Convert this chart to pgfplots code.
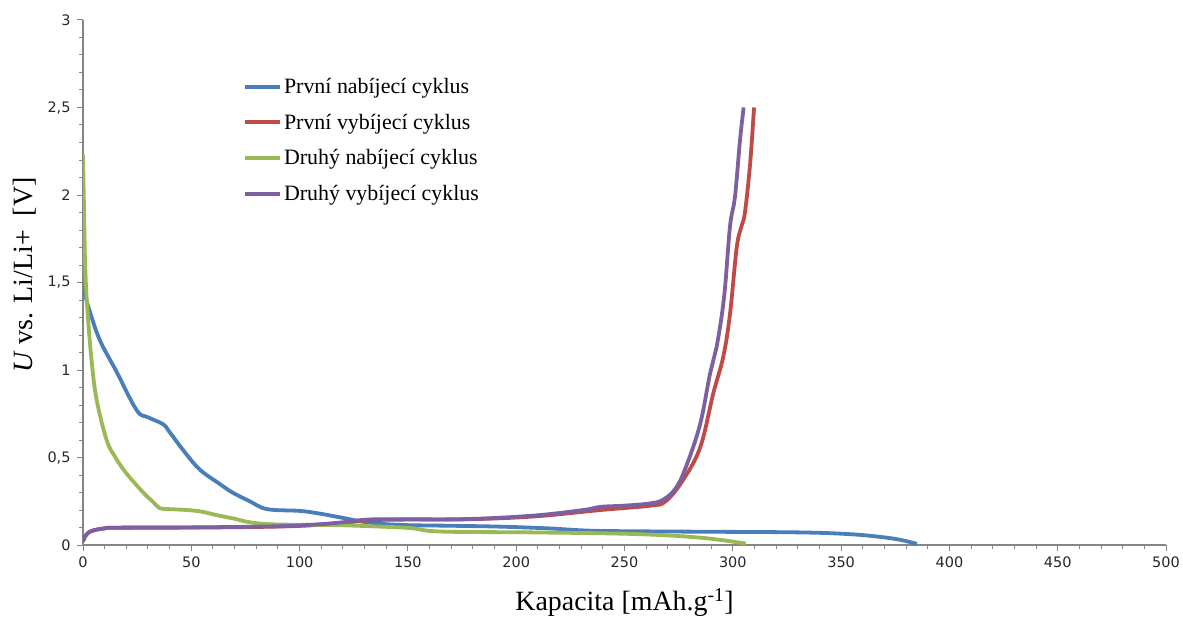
\documentclass[border=0pt]{standalone}
\usepackage{fontspec}
\setmainfont{Liberation Serif}
\newfontfamily\tickfont{DejaVu Sans}
\usepackage{pgfplots}
\pgfplotsset{compat=1.18}

\definecolor{cblue}{HTML}{4A7EBB}
\definecolor{cred}{HTML}{BE4B48}
\definecolor{cgreen}{HTML}{98B954}
\definecolor{cpurple}{HTML}{7D60A0}
\definecolor{axgray}{HTML}{868686}

\begin{document}
\begin{tikzpicture}
\begin{axis}[
    scale only axis,
    width=1083bp, height=525bp,
    xmin=0, xmax=500, ymin=0, ymax=3,
    axis lines=left,
    axis line style={-, draw=axgray, line width=1.4bp},
    xtick={0,50,...,500},
    ytick={0,0.5,...,3},
    minor x tick num=4,
    minor y tick num=4,
    tick align=outside,
    major tick length=6bp,
    minor tick length=4bp,
    every tick/.style={draw=axgray, line width=1bp},
    /pgf/number format/use comma,
    /pgf/number format/assume math mode=true,
    tick label style={font=\tickfont\fontsize{14.5}{16}\selectfont, text=black!85},
    xticklabel style={yshift=-2bp},
    yticklabel style={xshift=-3bp},
    xlabel={Kapacita [mAh.g\textsuperscript{-1}]},
    ylabel={\textit{U} vs. Li/Li+\ \ [V]},
    label style={font=\fontsize{28}{30}\selectfont},
    xlabel style={at={(axis description cs:0.5,-0.11)}, anchor=center},
    ylabel style={at={(axis description cs:-0.054,0.514)}, anchor=center},
    legend style={draw=none, fill=none, at={(axis description cs:0.145,0.897)}, anchor=north west,
        font=\fontsize{22}{24}\selectfont, row sep=15bp,
        /tikz/every even column/.append style={column sep=0bp}},
    legend cell align=left,
    legend image code/.code={\draw[#1] (0bp,0bp) -- (35bp,0bp);},
]
\addplot[cblue, line width=3.8bp, smooth, tension=0.6] coordinates {
(0.3,1.48) (1,1.43) (3,1.34) (7.8,1.17) (15.5,0.99) (24.8,0.77) (30,0.73)
(37,0.69) (40,0.645) (47,0.53) (54,0.43) (63,0.35) (69,0.30) (77,0.25) (85,0.205)
(100,0.195) (109,0.18) (120,0.155) (131,0.13) (146,0.115) (170,0.11) (192.5,0.105)
(215,0.095) (234,0.082) (260,0.078) (285,0.076) (331,0.072) (354,0.062) (369,0.045)
(378,0.028) (385,0.006)
};
\addlegendentry{První nabíjecí cyklus}
\addplot[cred, line width=3.8bp, smooth, tension=0.6] coordinates {
(0,0.02) (1,0.05) (3,0.075) (6.3,0.088) (10,0.095) (15.5,0.099) (54,0.1) (92,0.106)
(115,0.12) (131,0.14) (146,0.145) (177,0.147) (208,0.163) (239,0.2) (262,0.225)
(269,0.25) (277,0.371) (285,0.56) (291,0.867) (295.6,1.076) (298.7,1.32) (301.8,1.70)
(304,1.82) (305.6,1.9) (308,2.18) (309.8,2.5)
};
\addlegendentry{První vybíjecí cyklus}
\addplot[cgreen, line width=3.8bp, smooth, tension=0.6] coordinates {
(0,2.23) (0.5,1.9) (1,1.6) (2,1.35) (4,1.05) (6.3,0.83) (10.9,0.6) (15,0.5) (20,0.41)
(27.8,0.30) (32,0.25) (35.5,0.21) (40,0.205) (48,0.2) (55,0.19) (62,0.17) (70,0.15)
(77,0.13) (88,0.118) (115,0.114) (131,0.108) (151,0.097) (165,0.077) (208,0.072)
(254,0.063) (285,0.042) (306,0.008)
};
\addlegendentry{Druhý nabíjecí cyklus}
\addplot[cpurple, line width=3.8bp, smooth, tension=0.6] coordinates {
(0,0.02) (1,0.05) (3,0.075) (6.3,0.088) (10,0.095) (15.5,0.099) (54,0.101) (92,0.108)
(115,0.124) (131,0.145) (146,0.147) (177,0.148) (208,0.168) (231,0.2) (239,0.218)
(250,0.225) (262,0.238) (268,0.26) (274,0.33) (279,0.467) (285,0.695) (289.5,0.98)
(292.5,1.13) (296,1.42) (298.7,1.82) (301,1.99) (303.3,2.31) (305,2.5)
};
\addlegendentry{Druhý vybíjecí cyklus}
\coordinate (sw) at (rel axis cs:0,0);
\coordinate (ne) at (rel axis cs:1,1);
\end{axis}
\pgfresetboundingbox
\path ([shift={(-83bp,-73bp)}]sw) rectangle ([shift={(17bp,20bp)}]ne);
\end{tikzpicture}
\end{document}
